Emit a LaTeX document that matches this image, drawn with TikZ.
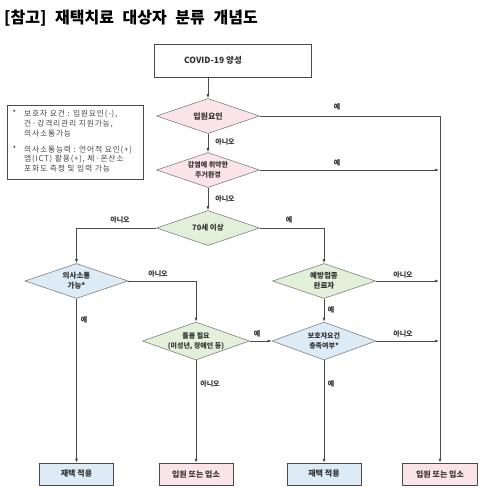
\documentclass[tikz,border=0pt]{standalone}
\usepackage{fontspec}
\setmainfont{Noto Sans CJK KR}
\newfontfamily\legfont[LetterSpace=10]{Noto Sans CJK KR}
\usetikzlibrary{shapes.geometric,arrows.meta}
\definecolor{pinkf}{HTML}{FBE3EA}
\definecolor{greenf}{HTML}{E3F0D9}
\definecolor{bluef}{HTML}{DDEBF7}
\definecolor{linec}{HTML}{4A4A4A}
\definecolor{txt}{HTML}{333333}
\begin{document}
\begin{tikzpicture}[x=1pt,y=-1pt,
  dia/.style={diamond, draw=linec!70, line width=0.6pt, inner sep=0pt, minimum width=103pt, minimum height=35pt},
  endbox/.style={rectangle, draw=linec, line width=0.7pt, inner sep=0pt, minimum width=74pt, minimum height=22pt, font=\fontsize{8}{9}\selectfont\bfseries, text=txt},
  dtext/.style={align=center, font=\fontsize{7.5}{10}\selectfont\bfseries, text=txt, inner sep=0pt},
  lbl/.style={font=\fontsize{7}{8}\selectfont\bfseries, text=txt, inner sep=0pt},
  conn/.style={draw=linec, line width=0.7pt},
  arr/.style={conn, -{Latex[length=4pt,width=3pt]}},
  legtext/.style={anchor=north west, align=left, font=\legfont\fontsize{7.8}{9.8}\selectfont, text=txt!90, inner sep=0pt}
]
\useasboundingbox[fill=white] (0,0) rectangle (484,490);
% title
\node[anchor=west, font=\fontsize{16}{17}\selectfont\bfseries, inner sep=0pt] (title) at (4,18.5) {[참고]\hspace{5pt} 재택치료\hspace{5pt} 대상자\hspace{5pt} 분류\hspace{5pt} 개념도};
% start box
\node[rectangle, draw=linec, line width=0.7pt, minimum width=157pt, minimum height=33pt, inner sep=0pt] (covid) at (232.5,60.5) {};
\node[font=\fontsize{8.5}{10}\selectfont\bfseries, text=txt, inner sep=0pt] (covidt) at (213,60.5) {COVID-19 양성};
% legend
\node[rectangle, draw=linec, line width=0.7pt, minimum width=136pt, minimum height=74pt, inner sep=0pt] (legend) at (75,142) {};
\node[legtext] (bul1) at (13,110) {•};
\node[legtext] (leg1) at (24,110) {보호자 요건 : 입원요인(-),\\건·강격리관리 지원가능,\\의사소통가능};
\node[legtext] (bul2) at (13,145.5) {•};
\node[legtext] (leg2) at (24,145.5) {의사소통능력 : 언어적 요인(+)\\앱(ICT) 활용(+), 체·온산소\\포화도 측정 및 입력 가능};
% diamonds
\node[dia, fill=pinkf] (d1) at (208,116) {};
\node[dtext, font=\fontsize{8}{10}\selectfont\bfseries] (t1) at (d1) {입원요인};
\node[dia, fill=pinkf] (d2) at (208,170) {};
\node[dtext, font=\fontsize{7}{9.5}\selectfont\bfseries] (t2) at (d2) {감염에 취약한\\주거환경};
\node[dia, fill=greenf] (d3) at (208,228) {};
\node[dtext] (t3) at (d3) {70세 이상};
\node[dia, fill=bluef] (d4) at (76.5,281) {};
\node[dtext] (t4) at (d4) {의사소통\\가능*};
\node[dia, fill=greenf] (d5) at (324,281) {};
\node[dtext] (t5) at (d5) {예방접종\\완료자};
\node[dia, fill=greenf, minimum width=107pt, minimum height=38pt] (d6) at (196,341) {};
\node[dtext, font=\fontsize{7}{10}\selectfont\bfseries] (t6) at (d6) {돌봄 필요\\(미성년, 장애인 등)};
\node[dia, fill=bluef, minimum width=104pt, minimum height=38pt] (d7) at (324,341) {};
\node[dtext, font=\fontsize{7}{10}\selectfont\bfseries] (t7) at (d7) {보호자요건\\충족여부*};
% end boxes
\node[endbox, fill=bluef] (b1) at (76.5,474) {재택 적용};
\node[endbox, fill=pinkf] (b2) at (196,474) {입원 또는 입소};
\node[endbox, fill=bluef] (b3) at (324,474) {재택 적용};
\node[endbox, fill=pinkf, minimum width=75pt] (b4) at (440,474) {입원 또는 입소};
% connectors
\draw[arr] (d1.north |- covid.south) -- (d1.north);
\draw[arr] (d1.east) -| (b4.north);
\draw[arr] (d1.south) -- (d2.north);
\draw[arr] (d2.east) -- ([xshift=-1pt]b4.north |- d2.east);
\draw[arr] (d2.south) -- (d3.north);
\draw[arr] (d3.west) -| (d4.north);
\draw[arr] (d3.east) -| (d5.north);
\draw[arr] (d4.east) -| (d6.north);
\draw[arr] (d4.south) -- (b1.north);
\draw[arr] (d5.east) -- ([xshift=-1pt]b4.north |- d5.east);
\draw[arr] (d5.south) -- (d7.north);
\draw[arr] (d6.east) -- (d7.west);
\draw[arr] (d6.south) -- (b2.north);
\draw[arr] (d7.east) -- ([xshift=-1pt]b4.north |- d7.east);
\draw[arr] (d7.south) -- (b3.north);
% labels
\node[lbl] (l1) at (337,107) {예};
\node[lbl] (l2) at (225,142) {아니오};
\node[lbl] (l3) at (337,163) {예};
\node[lbl] (l4) at (225,199) {아니오};
\node[lbl] (l5) at (120,220) {아니오};
\node[lbl] (l6) at (289,220) {예};
\node[lbl] (l7) at (158,274) {아니오};
\node[lbl] (l8) at (403,275) {아니오};
\node[lbl] (l9) at (84,320) {예};
\node[lbl] (l10) at (331,310) {예};
\node[lbl] (l11) at (257,334) {예};
\node[lbl] (l12) at (403,334) {아니오};
\node[lbl] (l13) at (210,384) {아니오};
\node[lbl] (l14) at (331,384) {예};
\end{tikzpicture}
\end{document}
